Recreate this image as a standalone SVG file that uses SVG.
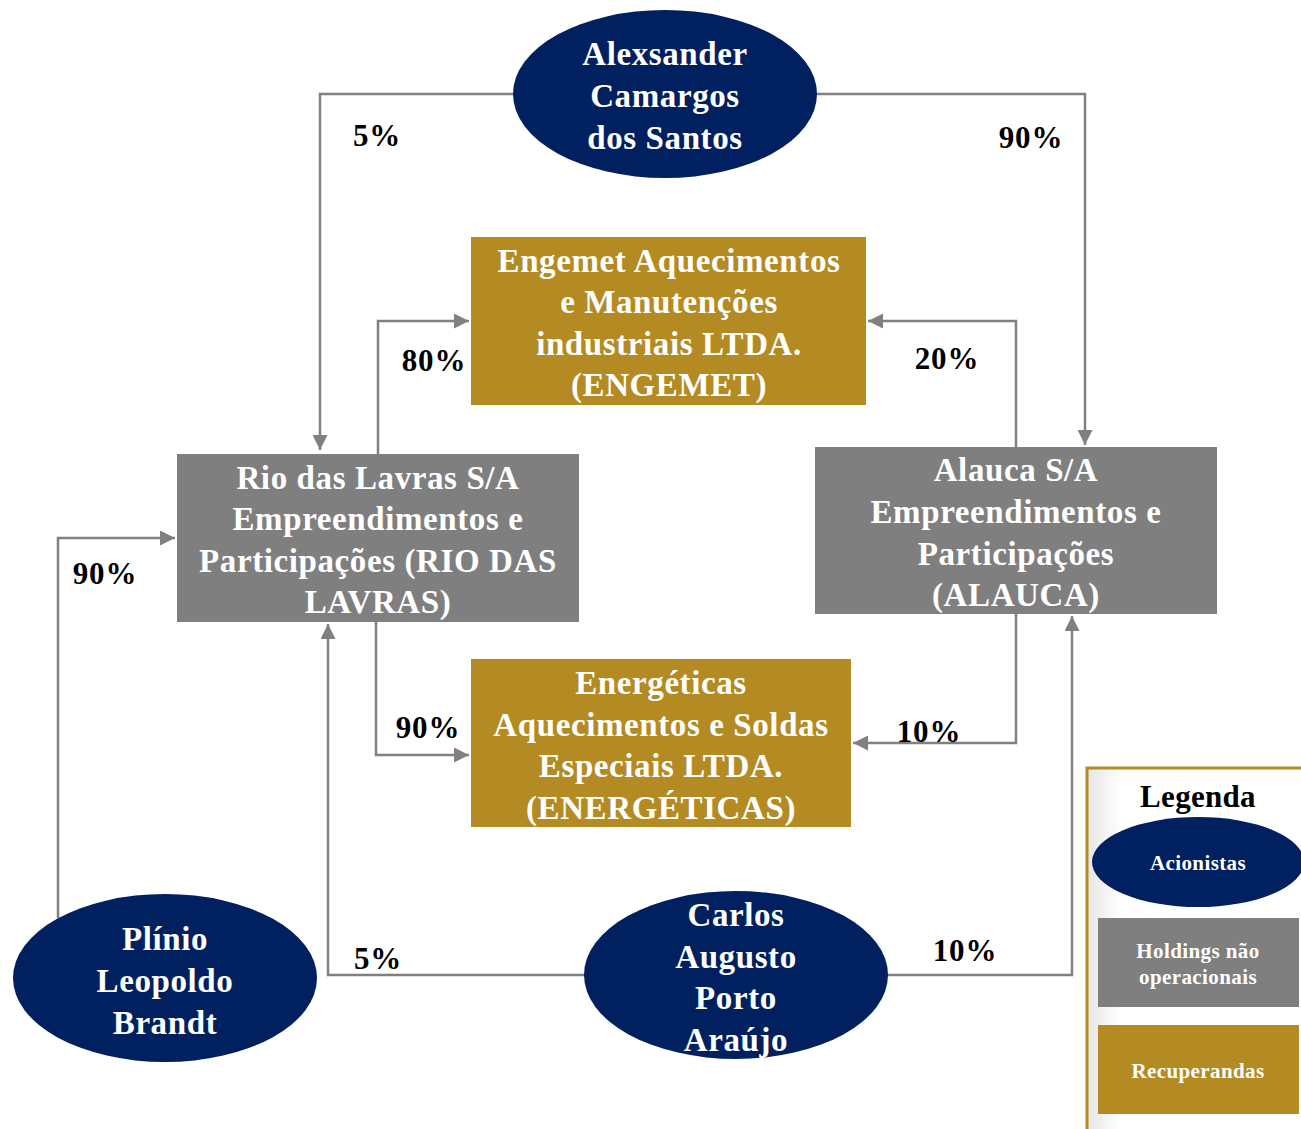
<svg xmlns="http://www.w3.org/2000/svg" width="1301" height="1129" viewBox="0 0 1301 1129">
<style>
.sh{fill:#002060}
.hd{fill:#7f7f7f}
.rc{fill:#b38b22}
.t{font-family:"Liberation Serif",serif;font-weight:bold;font-size:33px;letter-spacing:0.6px;fill:#fff;text-anchor:middle;dominant-baseline:central}
.p{font-family:"Liberation Serif",serif;font-weight:bold;font-size:31px;letter-spacing:0.8px;fill:#000;text-anchor:middle;dominant-baseline:central}
.lt{font-family:"Liberation Serif",serif;font-weight:bold;font-size:21px;letter-spacing:0.4px;fill:#fff;text-anchor:middle;dominant-baseline:central}
.c{fill:none;stroke:#808080;stroke-width:2.5}
</style>
<defs>
<marker id="ah" viewBox="0 0 10 10" refX="10" refY="5" markerWidth="6" markerHeight="6" markerUnits="strokeWidth" orient="auto">
<path d="M0,0 L10,5 L0,10 z" fill="#808080"/>
</marker>
<linearGradient id="lg" x1="0" y1="0" x2="1" y2="0">
<stop offset="0" stop-color="#e6e6e6"/>
<stop offset="0.15" stop-color="#ffffff"/>
<stop offset="1" stop-color="#ffffff"/>
</linearGradient>
</defs>
<rect width="1301" height="1129" fill="#fff"/>
<g id="connectors">
<path class="c" d="M513,94 H320 V450" marker-end="url(#ah)"/>
<path class="c" d="M817,94 H1085 V445" marker-end="url(#ah)"/>
<path class="c" d="M378,454 V321 H469" marker-end="url(#ah)"/>
<path class="c" d="M1016,447 V321 H868" marker-end="url(#ah)"/>
<path class="c" d="M376,622 V755 H469" marker-end="url(#ah)"/>
<path class="c" d="M1016,614 V743 H853" marker-end="url(#ah)"/>
<path class="c" d="M58,918 V538 H175" marker-end="url(#ah)"/>
<path class="c" d="M584,975 H328 V624" marker-end="url(#ah)"/>
<path class="c" d="M888,975 H1072 V616" marker-end="url(#ah)"/>
<text class="p" x="377" y="135">5%</text>
<text class="p" x="1031" y="137">90%</text>
<text class="p" x="434" y="360">80%</text>
<text class="p" x="947" y="358">20%</text>
<text class="p" x="428" y="727">90%</text>
<text class="p" x="929" y="731">10%</text>
<text class="p" x="105" y="573">90%</text>
<text class="p" x="378" y="958">5%</text>
<text class="p" x="965" y="950">10%</text>
</g>
<g id="alexsander">
<ellipse class="sh" cx="665" cy="94" rx="152" ry="84"/>
<text class="t" x="665" y="54">Alexsander</text>
<text class="t" x="665" y="96">Camargos</text>
<text class="t" x="665" y="138">dos Santos</text>
</g>
<g id="engemet">
<rect class="rc" x="471" y="237" width="395" height="168"/>
<text class="t" x="669" y="261">Engemet Aquecimentos</text>
<text class="t" x="669" y="302">e Manutenções</text>
<text class="t" x="669" y="344">industriais LTDA.</text>
<text class="t" x="669" y="385">(ENGEMET)</text>
</g>
<g id="riodaslavras">
<rect class="hd" x="177" y="454" width="402" height="168"/>
<text class="t" x="378" y="478">Rio das Lavras S/A</text>
<text class="t" x="378" y="519">Empreendimentos e</text>
<text class="t" x="378" y="561">Participações (RIO DAS</text>
<text class="t" x="378" y="602">LAVRAS)</text>
</g>
<g id="alauca">
<rect class="hd" x="815" y="447" width="402" height="167"/>
<text class="t" x="1016" y="470">Alauca S/A</text>
<text class="t" x="1016" y="512">Empreendimentos e</text>
<text class="t" x="1016" y="554">Participações</text>
<text class="t" x="1016" y="595">(ALAUCA)</text>
</g>
<g id="energeticas">
<rect class="rc" x="471" y="659" width="380" height="168"/>
<text class="t" x="661" y="683">Energéticas</text>
<text class="t" x="661" y="725">Aquecimentos e Soldas</text>
<text class="t" x="661" y="766">Especiais LTDA.</text>
<text class="t" x="661" y="808">(ENERGÉTICAS)</text>
</g>
<g id="plinio">
<ellipse class="sh" cx="165" cy="978" rx="152" ry="84"/>
<text class="t" x="165" y="939">Plínio</text>
<text class="t" x="165" y="981">Leopoldo</text>
<text class="t" x="165" y="1023">Brandt</text>
</g>
<g id="carlos">
<ellipse class="sh" cx="736" cy="975" rx="152" ry="84"/>
<text class="t" x="736" y="915">Carlos</text>
<text class="t" x="736" y="957">Augusto</text>
<text class="t" x="736" y="998">Porto</text>
<text class="t" x="736" y="1040">Araújo</text>
</g>
<g id="legenda">
<rect x="1087" y="768" width="230" height="380" fill="url(#lg)" stroke="#b38b22" stroke-width="3"/>
<text class="p" x="1198" y="796" style="font-size:31px;letter-spacing:0.3px">Legenda</text>
<ellipse class="sh" cx="1198" cy="862" rx="106" ry="45"/>
<text class="lt" x="1198" y="863">Acionistas</text>
<rect class="hd" x="1098" y="918" width="201" height="89"/>
<text class="lt" x="1198" y="951">Holdings não</text>
<text class="lt" x="1198" y="977">operacionais</text>
<rect class="rc" x="1098" y="1025" width="201" height="89"/>
<text class="lt" x="1198" y="1071">Recuperandas</text>
</g>
</svg>
